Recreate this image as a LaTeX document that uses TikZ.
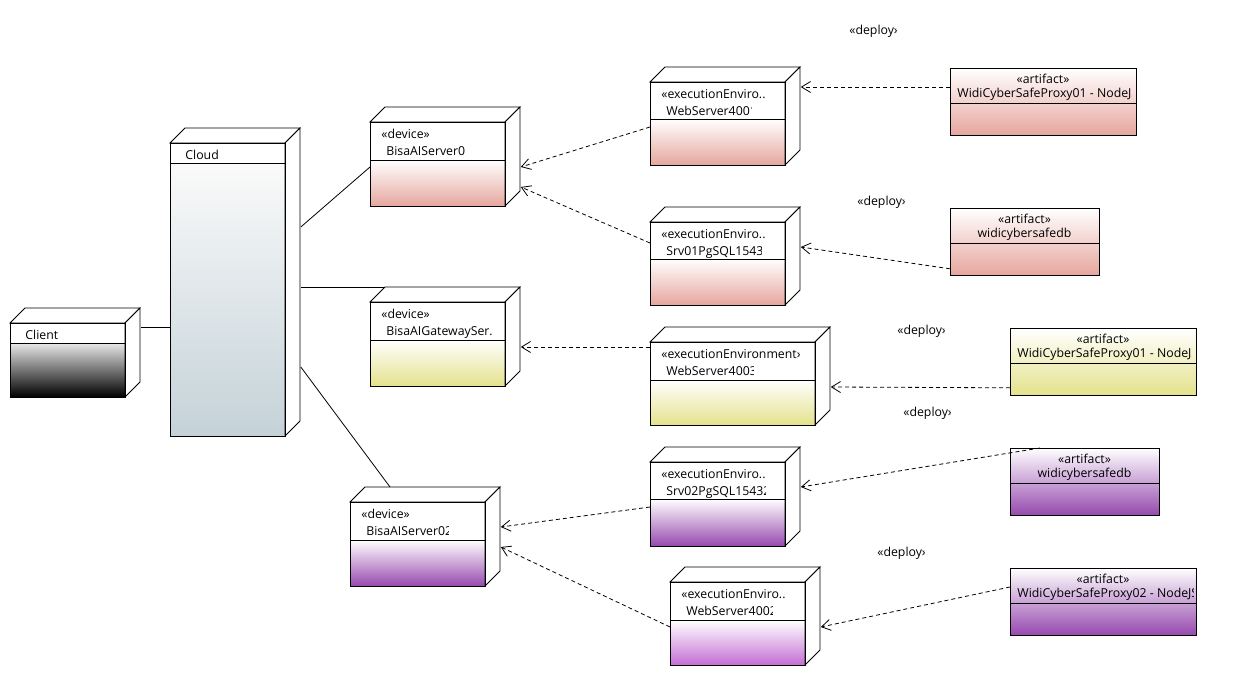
\documentclass[tikz,border=0pt]{standalone}
\usepackage{fontspec}
\setmainfont{Open Sans}
\usetikzlibrary{arrows.meta}

\definecolor{pinkc}{RGB}{230,166,158}
\definecolor{yellowc}{RGB}{228,226,140}
\definecolor{purplec}{RGB}{150,74,174}
\definecolor{magentac}{RGB}{196,110,212}
\definecolor{cloudc}{RGB}{196,210,216}

\newcommand{\devnode}[8]{%
  \path[top color=#7, bottom color=#8] (#2,#3+#6) rectangle (#2+#4,#3+#5);
  \draw[fill=white] (#2,#3) -- ++(15,-15) -- ++(#4,0) -- ++(-15,15) -- cycle;
  \draw[fill=white] (#2+#4,#3) -- ++(15,-15) -- ++(0,#5) -- ++(-15,15) -- cycle;
  \draw (#2,#3) rectangle (#2+#4,#3+#5);
  \draw (#2,#3+#6) -- (#2+#4,#3+#6);
  \node[inner sep=0, minimum width=#4+15, minimum height=#5+15, anchor=north west] (#1) at (#2,#3-15) {};
}
\newcommand{\artnode}[6]{%
  \path[top color=white, bottom color=#6] (#2,#3) rectangle (#2+#4,#3+#5);
  \draw (#2,#3+35) -- (#2+#4,#3+35);
  \node[draw, inner sep=0, minimum width=#4, minimum height=#5, anchor=north west] (#1) at (#2,#3) {};
}
\newcommand{\boxtext}[5]{%
  \begin{scope}
    \clip (#2-3,#3-14) rectangle (#4,#3+5);
    \node[lbl, anchor=base west] (#1) at (#2,#3) {#5};
  \end{scope}
}

\begin{document}
\begin{tikzpicture}[x=1pt, y=-1pt, line width=0.8pt,
    lbl/.style={inner sep=0, font=\fontsize{12.3}{15}\selectfont},
    dep/.style={dash pattern=on 4pt off 3pt, -{Straight Barb[length=9pt, width=11pt]}}]
    \useasboundingbox[fill=white] (0,0) rectangle (1234,677);

    \devnode{client}{10}{323}{115}{74}{20}{black!9}{black}
    \boxtext{client-nm}{25}{339}{120}{Client}
    \devnode{cloud}{170}{143}{115}{293}{20}{black!2}{cloudc}
    \boxtext{cloud-nm}{185}{159}{280}{Cloud}

    \devnode{dev0}{370}{122}{135}{84}{38}{white}{pinkc}
    \boxtext{dev0-st}{381}{138}{500}{«device»}
    \boxtext{dev0-nm}{386}{155}{500}{BisaAIServer0}
    \devnode{gw}{370}{302}{135}{84}{38}{white}{yellowc}
    \boxtext{gw-st}{381}{318}{500}{«device»}
    \boxtext{gw-nm}{386}{335}{500}{BisaAIGatewaySer.}
    \devnode{dev02}{350}{502}{135}{84}{38}{white}{purplec}
    \boxtext{dev02-st}{361}{518}{480}{«device»}
    \boxtext{dev02-nm}{366}{535}{448}{BisaAIServer02}

    \devnode{ws4001}{650}{82}{135}{83}{37}{white}{pinkc}
    \boxtext{ws4001-st}{661}{98}{780}{«executionEnviro..}
    \boxtext{ws4001-nm}{666}{115}{751}{WebServer4001}
    \devnode{srv01}{650}{222}{135}{83}{37}{white}{pinkc}
    \boxtext{srv01-st}{661}{238}{780}{«executionEnviro..}
    \boxtext{srv01-nm}{666}{255}{761}{Srv01PgSQL15432}
    \devnode{ws4003}{650}{342}{165}{83}{38}{white}{yellowc}
    \boxtext{ws4003-st}{661}{358}{799}{«executionEnvironment»}
    \boxtext{ws4003-nm}{666}{375}{753}{WebServer4003}
    \devnode{srv02}{650}{462}{135}{84}{37}{white}{purplec}
    \boxtext{srv02-st}{661}{478}{780}{«executionEnviro..}
    \boxtext{srv02-nm}{666}{495}{765}{Srv02PgSQL15432}
    \devnode{ws4002}{670}{582}{135}{83}{38}{white}{magentac}
    \boxtext{ws4002-st}{681}{598}{800}{«executionEnviro..}
    \boxtext{ws4002-nm}{686}{615}{772}{WebServer4002}

    \artnode{art1}{950}{68}{186}{67}{pinkc}
    \node[lbl, anchor=base] (art1-st) at (1043,83) {«artifact»};
    \boxtext{art1-nm}{957}{97}{1131}{WidiCyberSafeProxy01 - NodeJS}
    \artnode{art2}{950}{208}{149}{67}{pinkc}
    \node[lbl, anchor=base] (art2-st) at (1024.5,223) {«artifact»};
    \node[lbl, anchor=base] (art2-nm) at (1024.5,237) {widicybersafedb};
    \artnode{art3}{1010}{328}{186}{67}{yellowc}
    \node[lbl, anchor=base] (art3-st) at (1103,343) {«artifact»};
    \boxtext{art3-nm}{1017}{357}{1191}{WidiCyberSafeProxy01 - NodeJS}
    \artnode{art4}{1010}{448}{149}{67}{purplec}
    \node[lbl, anchor=base] (art4-st) at (1084.5,463) {«artifact»};
    \node[lbl, anchor=base] (art4-nm) at (1084.5,477) {widicybersafedb};
    \artnode{art5}{1010}{568}{186}{67}{purplec}
    \node[lbl, anchor=base] (art5-st) at (1103,583) {«artifact»};
    \boxtext{art5-nm}{1017}{597}{1193}{WidiCyberSafeProxy02 - NodeJS}

    \boxtext{dp1}{849}{35}{896}{«deploy»}
    \boxtext{dp2}{857}{205}{904}{«deploy»}
    \boxtext{dp3}{897}{334}{944}{«deploy»}
    \boxtext{dp4}{903}{416}{950}{«deploy»}
    \boxtext{dp5}{877}{556}{924}{«deploy»}

    \draw ([yshift=-19pt]client.north east) -- ([yshift=-199pt]cloud.north west);
    \draw ([yshift=-99pt]cloud.north east) -- ([yshift=-60pt]dev0.north west);
    \draw ([yshift=-159pt]cloud.north east) -- ([xshift=15pt]gw.north west);
    \draw ([yshift=-239pt]cloud.north east) -- ([xshift=40pt]dev02.north west);

    \draw[dep] ([yshift=-60pt]ws4001.north west) -- ([yshift=-60pt]dev0.north east);
    \draw[dep] ([yshift=-36pt]srv01.north west) -- ([yshift=-80pt]dev0.north east);
    \draw[dep] ([yshift=-19pt]art1.north west) -- ([yshift=-20pt]ws4001.north east);
    \draw[dep] ([yshift=7pt]art2.south west) -- ([yshift=-40pt]srv01.north east);
    \draw[dep] ([yshift=-20pt]ws4003.north west) -- ([yshift=-60pt]gw.north east);
    \draw[dep] ([yshift=8pt]art3.south west) -- ([yshift=-60pt]ws4003.north east);
    \draw[dep] ([yshift=-60pt]srv02.north west) -- ([yshift=-40pt]dev02.north east);
    \draw[dep] ([yshift=-60pt]ws4002.north west) -- ([yshift=-60pt]dev02.north east);
    \draw[dep] ([xshift=30pt]art4.north west) -- ([yshift=-40pt]srv02.north east);
    \draw[dep] ([yshift=-19pt]art5.north west) -- ([yshift=-60pt]ws4002.north east);
\end{tikzpicture}
\end{document}
